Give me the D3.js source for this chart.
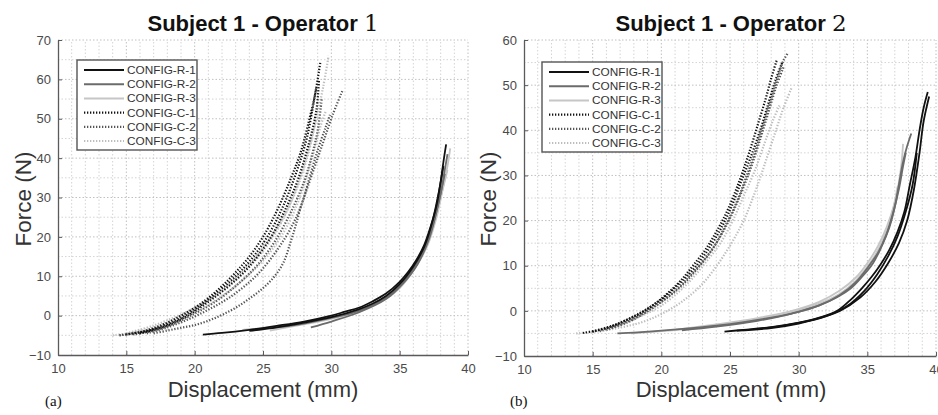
<!DOCTYPE html>
<html>
<head>
<meta charset="utf-8">
<script src="https://cdn.jsdelivr.net/npm/d3@7"></script>
<style>
	body { margin: 0; background: #fff; }
	svg { display: block; font-family: "Liberation Sans", Arial, sans-serif; }
</style>
</head>
<body>
<svg id="chart" width="938" height="415"></svg>
<script>
// legend entries, same order for both panels
var configNames = [ 'CONFIG-R-1', 'CONFIG-R-2', 'CONFIG-R-3', 'CONFIG-C-1', 'CONFIG-C-2', 'CONFIG-C-3' ];

var xTicks = [ 10, 15, 20, 25, 30, 35, 40 ];
var yTicksOp1 = [ -10, 0, 10, 20, 30, 40, 50, 60, 70 ];
var yTicksOp2 = [ -10, 0, 10, 20, 30, 40, 50, 60 ];

// Operator 1 -- each config holds a few trials of [displacement, force]
var op1R1 = [
	[ [ 20.6, -4.8 ], [ 22, -4.4 ], [ 24, -3.6 ], [ 26, -2.6 ], [ 28, -1.5 ], [ 30, 0 ], [ 31, 1 ], [ 32, 2 ], [ 33, 3.6 ], [ 34, 5.6 ], [ 35, 8.6 ], [ 35.6, 11 ], [ 36.2, 14 ], [ 36.8, 18 ], [ 37.3, 23 ], [ 37.7, 28 ], [ 38, 34 ], [ 38.2, 39 ], [ 38.4, 43.5 ] ],
	[ [ 24, -3.9 ], [ 26, -3 ], [ 28, -1.8 ], [ 30, -0.4 ], [ 32, 1.6 ], [ 33, 3 ], [ 34, 5 ], [ 35, 8 ], [ 36, 12.5 ], [ 36.8, 17.5 ], [ 37.4, 24 ], [ 37.9, 32 ], [ 38.2, 38 ] ]
];
var op1R2 = [
	[ [ 24.3, -3.6 ], [ 26, -3 ], [ 28, -2 ], [ 30, -0.6 ], [ 32, 1.2 ], [ 34, 4.6 ], [ 35, 7.4 ], [ 36, 12 ], [ 36.8, 17 ], [ 37.5, 24 ], [ 38, 31 ], [ 38.3, 37 ], [ 38.5, 41 ] ],
	[ [ 28.5, -3 ], [ 30, -1.5 ], [ 32, 0.8 ], [ 34, 4.2 ], [ 35.2, 8 ], [ 36.3, 13 ], [ 37.2, 20 ], [ 37.8, 28 ], [ 38.3, 36 ] ]
];
var op1R3 = [
	[ [ 25.5, -3.8 ], [ 28, -2.2 ], [ 30, -0.8 ], [ 32, 1 ], [ 33.5, 3.5 ], [ 35, 7 ], [ 36, 11.5 ], [ 37, 17.5 ], [ 37.7, 25 ], [ 38.2, 33 ], [ 38.5, 38 ], [ 38.7, 42.5 ] ],
	[ [ 23.5, -3.6 ], [ 26, -2.8 ], [ 29, -1.2 ], [ 31, 0.3 ], [ 33, 2.6 ], [ 34.5, 5.5 ], [ 35.6, 9.5 ], [ 36.6, 15 ], [ 37.4, 22 ], [ 38, 30 ], [ 38.5, 37 ] ]
];
var op1C1 = [
	[ [ 14.5, -5 ], [ 16, -4.2 ], [ 17, -3.2 ], [ 18, -1.8 ], [ 19, 0 ], [ 20, 2 ], [ 21, 4.5 ], [ 22, 7.5 ], [ 23, 11 ], [ 24, 15 ], [ 25, 20 ], [ 26, 26.5 ], [ 27, 34.5 ], [ 27.8, 42 ], [ 28.4, 50 ], [ 28.8, 56 ], [ 29.2, 64.5 ] ],
	[ [ 15, -4.8 ], [ 17, -3.5 ], [ 18.5, -1.5 ], [ 20, 1.5 ], [ 21.5, 5.5 ], [ 23, 10 ], [ 24.3, 15 ], [ 25.4, 20.5 ], [ 26.5, 28 ], [ 27.5, 37 ], [ 28.2, 45 ], [ 28.6, 52 ], [ 28.9, 58 ] ],
	[ [ 16, -4.5 ], [ 18, -2.5 ], [ 19.5, 0 ], [ 21, 3.5 ], [ 22.5, 7.5 ], [ 24, 12.5 ], [ 25.5, 19.5 ], [ 26.5, 26 ], [ 27.5, 34 ], [ 28.3, 43 ], [ 28.9, 52 ], [ 29.1, 60 ] ]
];
var op1C2 = [
	[ [ 17, -4.5 ], [ 18, -3.8 ], [ 19, -3.1 ], [ 20, -2.4 ], [ 21, -1.3 ], [ 22, 0.2 ], [ 23, 2 ], [ 24, 4.3 ], [ 25, 7 ], [ 25.8, 9.8 ], [ 26.5, 13.5 ], [ 27, 18.5 ], [ 27.4, 23 ], [ 27.8, 28 ], [ 28.3, 33 ], [ 28.9, 39 ], [ 29.5, 45 ], [ 30.1, 51 ], [ 30.8, 57 ] ],
	[ [ 16.5, -4.5 ], [ 18, -3 ], [ 19.5, -1 ], [ 21, 1.5 ], [ 22.5, 4.5 ], [ 24, 8.5 ], [ 25, 12 ], [ 26, 16.5 ], [ 27, 22 ], [ 27.8, 28 ], [ 28.4, 35 ], [ 29, 42 ], [ 29.6, 48 ], [ 29.9, 51 ] ],
	[ [ 15.5, -4.8 ], [ 17, -3.8 ], [ 18.5, -2 ], [ 20, 0.5 ], [ 21.5, 3.5 ], [ 23, 7.5 ], [ 24.5, 12.5 ], [ 25.8, 18.5 ], [ 27, 26 ], [ 28, 34 ], [ 28.6, 41 ], [ 29, 47 ], [ 29.3, 55 ] ]
];
var op1C3 = [
	[ [ 14, -5 ], [ 15.5, -4.3 ], [ 17, -3 ], [ 18.5, -1 ], [ 20, 1.8 ], [ 21.5, 5 ], [ 23, 9.5 ], [ 24.5, 15 ], [ 25.5, 19.5 ], [ 26.5, 25 ], [ 27.5, 32.5 ], [ 28.3, 41 ], [ 28.9, 50 ], [ 29.4, 58 ], [ 29.8, 66 ] ],
	[ [ 15, -4.5 ], [ 17, -2.5 ], [ 19, 0.3 ], [ 21, 4 ], [ 23, 9 ], [ 24.8, 15.5 ], [ 26, 21.5 ], [ 27, 28.5 ], [ 27.8, 36 ], [ 28.4, 43 ], [ 28.9, 50 ] ],
	[ [ 16, -4.2 ], [ 18, -2.2 ], [ 20, 0.8 ], [ 22, 5 ], [ 24, 10.5 ], [ 25.5, 16 ], [ 26.8, 23 ], [ 27.8, 31 ], [ 28.6, 40 ], [ 29.2, 48 ], [ 29.6, 52 ] ]
];

// Operator 2
var op2R1 = [
	[ [ 24.6, -4.6 ], [ 26, -4.2 ], [ 28, -3.6 ], [ 30, -2.6 ], [ 31.5, -1.5 ], [ 32.8, 0 ], [ 33.8, 2.5 ], [ 34.6, 5 ], [ 35.3, 7.5 ], [ 35.9, 10 ], [ 36.6, 13.5 ], [ 37.2, 17.5 ], [ 37.7, 22 ], [ 38.1, 28 ], [ 38.5, 34 ], [ 38.8, 40 ], [ 39.1, 45 ], [ 39.4, 48.5 ] ],
	[ [ 25.5, -4.4 ], [ 28, -3.8 ], [ 30, -2.8 ], [ 32, -1.2 ], [ 33.5, 1 ], [ 34.8, 4.5 ], [ 35.7, 8 ], [ 36.5, 12 ], [ 37.2, 16.5 ], [ 37.8, 22 ], [ 38.3, 28 ], [ 38.6, 35 ] ],
	[ [ 27, -4 ], [ 29, -3.2 ], [ 31, -2 ], [ 33, 0 ], [ 34.5, 3 ], [ 35.6, 6.5 ], [ 36.5, 10.5 ], [ 37.3, 15 ], [ 37.9, 20 ], [ 38.4, 27 ], [ 38.8, 35 ], [ 39.1, 42 ], [ 39.5, 47.5 ] ]
];
var op2R2 = [
	[ [ 16.8, -5 ], [ 18, -4.8 ], [ 20, -4.4 ], [ 22, -3.9 ], [ 24, -3.3 ], [ 26, -2.5 ], [ 28, -1.5 ], [ 30, -0.2 ], [ 31.5, 1.2 ], [ 32.8, 3 ], [ 33.8, 5 ], [ 34.6, 7.5 ], [ 35.4, 10.5 ], [ 36, 14 ], [ 36.6, 18.5 ], [ 37, 23 ], [ 37.3, 28 ], [ 37.6, 33 ], [ 37.9, 36.5 ], [ 38.2, 39.3 ] ],
	[ [ 21.5, -4.3 ], [ 24, -3.5 ], [ 27, -2.2 ], [ 29.5, -0.6 ], [ 31.5, 1.2 ], [ 33, 3.5 ], [ 34.2, 6.5 ], [ 35, 9.5 ], [ 35.8, 13 ], [ 36.4, 17 ], [ 36.9, 22 ], [ 37.3, 27 ], [ 37.6, 32 ], [ 37.8, 35 ] ]
];
var op2R3 = [
	[ [ 17.8, -5 ], [ 20, -4.5 ], [ 22, -4 ], [ 24, -3.2 ], [ 26, -2.4 ], [ 28, -1.2 ], [ 30, 0.2 ], [ 31.5, 1.6 ], [ 33, 3.8 ], [ 34, 6.2 ], [ 34.8, 9 ], [ 35.5, 12 ], [ 36.1, 15.5 ], [ 36.6, 19.5 ], [ 37, 24 ], [ 37.3, 28.5 ], [ 37.5, 33 ], [ 37.6, 37 ] ],
	[ [ 21, -4.2 ], [ 24, -3 ], [ 27, -1.6 ], [ 29.5, 0 ], [ 31.5, 2 ], [ 33, 4.5 ], [ 34.2, 7.5 ], [ 35.1, 11 ], [ 35.8, 14.5 ], [ 36.4, 18.5 ], [ 36.9, 23 ], [ 37.2, 27.5 ] ]
];
var op2C1 = [
	[ [ 14.3, -4.9 ], [ 15.5, -4.2 ], [ 16.5, -3.3 ], [ 17.5, -2 ], [ 18.5, -0.5 ], [ 19.5, 1.5 ], [ 20.5, 4 ], [ 21.5, 7 ], [ 22.3, 10 ], [ 23.2, 13.5 ], [ 24, 17.5 ], [ 24.7, 21.5 ], [ 25.4, 26.5 ], [ 26, 31.5 ], [ 26.6, 37 ], [ 27.1, 42 ], [ 27.6, 47 ], [ 28, 51.5 ], [ 28.4, 55.5 ] ],
	[ [ 15, -4.6 ], [ 16.5, -3.2 ], [ 17.8, -1.5 ], [ 19, 0.5 ], [ 20.2, 3 ], [ 21.3, 6 ], [ 22.4, 9.5 ], [ 23.4, 13.5 ], [ 24.3, 18 ], [ 25.1, 23 ], [ 25.8, 28.5 ], [ 26.5, 34 ], [ 27.2, 40 ], [ 27.8, 46 ], [ 28.3, 51 ], [ 28.8, 55 ] ]
];
var op2C2 = [
	[ [ 15.5, -4.5 ], [ 17, -3 ], [ 18.3, -1.2 ], [ 19.5, 1 ], [ 20.7, 3.5 ], [ 21.8, 6.5 ], [ 22.8, 10 ], [ 23.8, 14 ], [ 24.6, 18.5 ], [ 25.4, 23.5 ], [ 26.1, 29 ], [ 26.8, 35 ], [ 27.4, 41 ], [ 28, 47 ], [ 28.5, 52 ], [ 28.9, 55.5 ], [ 29.2, 57 ] ],
	[ [ 16, -4.2 ], [ 17.5, -2.6 ], [ 18.8, -0.5 ], [ 20, 2 ], [ 21.2, 5 ], [ 22.3, 8.5 ], [ 23.3, 12 ], [ 24.2, 16 ], [ 25, 20.5 ], [ 25.8, 26 ], [ 26.5, 31.5 ], [ 27.2, 38 ], [ 27.8, 44 ], [ 28.4, 50 ], [ 28.9, 54 ] ]
];
var op2C3 = [
	[ [ 13.8, -5 ], [ 15.5, -4.5 ], [ 17, -3.7 ], [ 18.5, -2.6 ], [ 19.8, -1 ], [ 21, 1 ], [ 22, 3.2 ], [ 23, 6 ], [ 23.8, 9 ], [ 24.6, 12.5 ], [ 25.3, 16 ], [ 26, 20 ], [ 26.6, 24.5 ], [ 27.2, 29.5 ], [ 27.8, 35 ], [ 28.4, 40.5 ], [ 28.9, 45 ], [ 29.5, 49.5 ] ],
	[ [ 15, -4.6 ], [ 17, -3 ], [ 18.5, -1.2 ], [ 19.8, 0.8 ], [ 21, 3.5 ], [ 22.2, 7 ], [ 23.3, 11 ], [ 24.3, 15 ], [ 25.2, 20 ], [ 26, 25.5 ], [ 26.8, 31 ], [ 27.5, 37 ], [ 28.1, 42 ], [ 28.6, 45.5 ] ]
];

// greyscale styles, one per config (same order as configNames)
var configStyles = [
	{ color: '#111111', dash: null },
	{ color: '#6b6b6b', dash: null },
	{ color: '#c6c6c6', dash: null },
	{ color: '#111111', dash: '1.3,1.7' },
	{ color: '#555555', dash: '1.3,1.7' },
	{ color: '#bdbdbd', dash: '1.3,1.7' }
];

var svg = d3.select( '#chart' );

function drawPanel( _opts ) {
	var x = d3.scaleLinear().domain( [ 10, 40 ] ).range( _opts.xRange ),
		y = d3.scaleLinear().domain( _opts.yDomain ).range( _opts.yRange ),
		g = svg.append( 'g' );

	// minor + major grid, dotted
	var xGrid = d3.range( 11, 41, 1 ),
		yGrid = d3.range( _opts.yDomain[ 0 ] + 5, _opts.yDomain[ 1 ] + 1, 5 );

	g.selectAll( 'line.xgrid' ).data( xGrid ).enter().append( 'line' )
		.attr( 'class', 'xgrid' )
		.attr( 'x1', function( _d ) { return x( _d ); } )
		.attr( 'x2', function( _d ) { return x( _d ); } )
		.attr( 'y1', y( _opts.yDomain[ 0 ] ) )
		.attr( 'y2', y( _opts.yDomain[ 1 ] ) )
		.attr( 'stroke', function( _d ) { return _d % 5 === 0 ? '#c0c0c0' : '#d4d4d4'; } )
		.attr( 'stroke-width', 1 )
		.attr( 'stroke-dasharray', '1.5,2' );

	g.selectAll( 'line.ygrid' ).data( yGrid ).enter().append( 'line' )
		.attr( 'class', 'ygrid' )
		.attr( 'x1', x( 10 ) )
		.attr( 'x2', x( 40 ) )
		.attr( 'y1', function( _d ) { return y( _d ); } )
		.attr( 'y2', function( _d ) { return y( _d ); } )
		.attr( 'stroke', function( _d ) { return _d % 10 === 0 ? '#c0c0c0' : '#d4d4d4'; } )
		.attr( 'stroke-width', 1 )
		.attr( 'stroke-dasharray', '1.5,2' );

	// curves: light ones first so the darker trials sit on top
	var line = d3.line()
		.x( function( _d ) { return x( _d[ 0 ] ); } )
		.y( function( _d ) { return y( _d[ 1 ] ); } )
		.curve( d3.curveCatmullRom );

	var order = [ 5, 4, 3, 2, 1, 0 ];
	order.forEach( function( _i ) {
		var st = configStyles[ _i ];
		g.selectAll( null ).data( _opts.series[ _i ] ).enter().append( 'path' )
			.attr( 'd', line )
			.attr( 'fill', 'none' )
			.attr( 'stroke', st.color )
			.attr( 'stroke-width', st.dash ? 2.2 : 1.8 )
			.attr( 'stroke-dasharray', st.dash );
	} );

	// axes, MATLAB style with ticks pointing inward
	var xAxis = d3.axisBottom( x ).tickValues( xTicks ).tickSizeInner( -4 ).tickSizeOuter( 0 ).tickPadding( 9 );
	var yAxis = d3.axisLeft( y ).tickValues( _opts.yTicks ).tickSizeInner( -4 ).tickSizeOuter( 0 ).tickPadding( 7 );

	var gx = g.append( 'g' ).attr( 'transform', 'translate(0,' + y( _opts.yDomain[ 0 ] ) + ')' ).call( xAxis );
	var gy = g.append( 'g' ).attr( 'transform', 'translate(' + x( 10 ) + ',0)' ).call( yAxis );

	[ gx, gy ].forEach( function( _a ) {
		_a.select( '.domain' ).attr( 'stroke', '#5a5a5a' ).attr( 'stroke-width', 1.3 );
		_a.selectAll( '.tick line' ).attr( 'stroke', '#5a5a5a' );
		_a.selectAll( '.tick text' )
			.attr( 'fill', '#4a4a4a' )
			.style( 'font-size', '13px' )
			.style( 'font-family', '"Liberation Sans", Arial, sans-serif' );
	} );

	// legend
	var lg = g.append( 'g' ).attr( 'transform', 'translate(' + _opts.legend[ 0 ] + ',' + _opts.legend[ 1 ] + ')' );
	lg.append( 'rect' )
		.attr( 'width', 120 )
		.attr( 'height', 90 )
		.attr( 'fill', '#fff' )
		.attr( 'stroke', '#555' )
		.attr( 'stroke-width', 1.4 );

	configNames.forEach( function( _name, _i ) {
		var st = configStyles[ _i ],
			rowY = 10 + _i * 14.2;
		lg.append( 'line' )
			.attr( 'x1', 7 ).attr( 'x2', 47 )
			.attr( 'y1', rowY ).attr( 'y2', rowY )
			.attr( 'stroke', st.color )
			.attr( 'stroke-width', st.dash ? 2.2 : 2 )
			.attr( 'stroke-dasharray', st.dash );
		lg.append( 'text' )
			.attr( 'x', 50 )
			.attr( 'y', rowY + 4 )
			.attr( 'fill', '#333' )
			.style( 'font-size', '11.8px' )
			.text( _name );
	} );

	// title (the trailing operator number is set in a serif face, as in the source)
	var title = g.append( 'text' )
		.attr( 'x', _opts.titleX )
		.attr( 'y', 31 )
		.attr( 'text-anchor', 'middle' )
		.attr( 'fill', '#111' );
	title.append( 'tspan' )
		.style( 'font-size', '22px' )
		.style( 'font-weight', 'bold' )
		.text( 'Subject 1 - Operator ' );
	title.append( 'tspan' )
		.style( 'font-size', '23px' )
		.style( 'font-family', '"DejaVu Serif", serif' )
		.style( 'font-weight', 'normal' )
		.text( _opts.operator );

	g.append( 'text' )
		.attr( 'transform', 'translate(' + _opts.yLabelX + ',199) rotate(-90)' )
		.attr( 'text-anchor', 'middle' )
		.attr( 'fill', '#333' )
		.style( 'font-size', '22.5px' )
		.text( 'Force (N)' );

	g.append( 'text' )
		.attr( 'x', _opts.titleX )
		.attr( 'y', 397 )
		.attr( 'text-anchor', 'middle' )
		.attr( 'fill', '#333' )
		.style( 'font-size', '22px' )
		.text( 'Displacement (mm)' );

	g.append( 'text' )
		.attr( 'x', _opts.tagX )
		.attr( 'y', 406 )
		.attr( 'fill', '#111' )
		.style( 'font-size', '15px' )
		.style( 'font-family', '"Liberation Serif", "Times New Roman", serif' )
		.text( _opts.tag );
}

drawPanel( {
	xRange: [ 58, 468 ],
	yRange: [ 355, 40 ],
	yDomain: [ -10, 70 ],
	yTicks: yTicksOp1,
	series: [ op1R1, op1R2, op1R3, op1C1, op1C2, op1C3 ],
	legend: [ 77, 60 ],
	titleX: 263,
	yLabelX: 31,
	operator: '1',
	tag: '(a)',
	tagX: 45
} );

drawPanel( {
	xRange: [ 524, 936 ],
	yRange: [ 356, 40 ],
	yDomain: [ -10, 60 ],
	yTicks: yTicksOp2,
	series: [ op2R1, op2R2, op2R3, op2C1, op2C2, op2C3 ],
	legend: [ 542, 62 ],
	titleX: 731,
	yLabelX: 496,
	operator: '2',
	tag: '(b)',
	tagX: 510
} );
</script>
</body>
</html>
